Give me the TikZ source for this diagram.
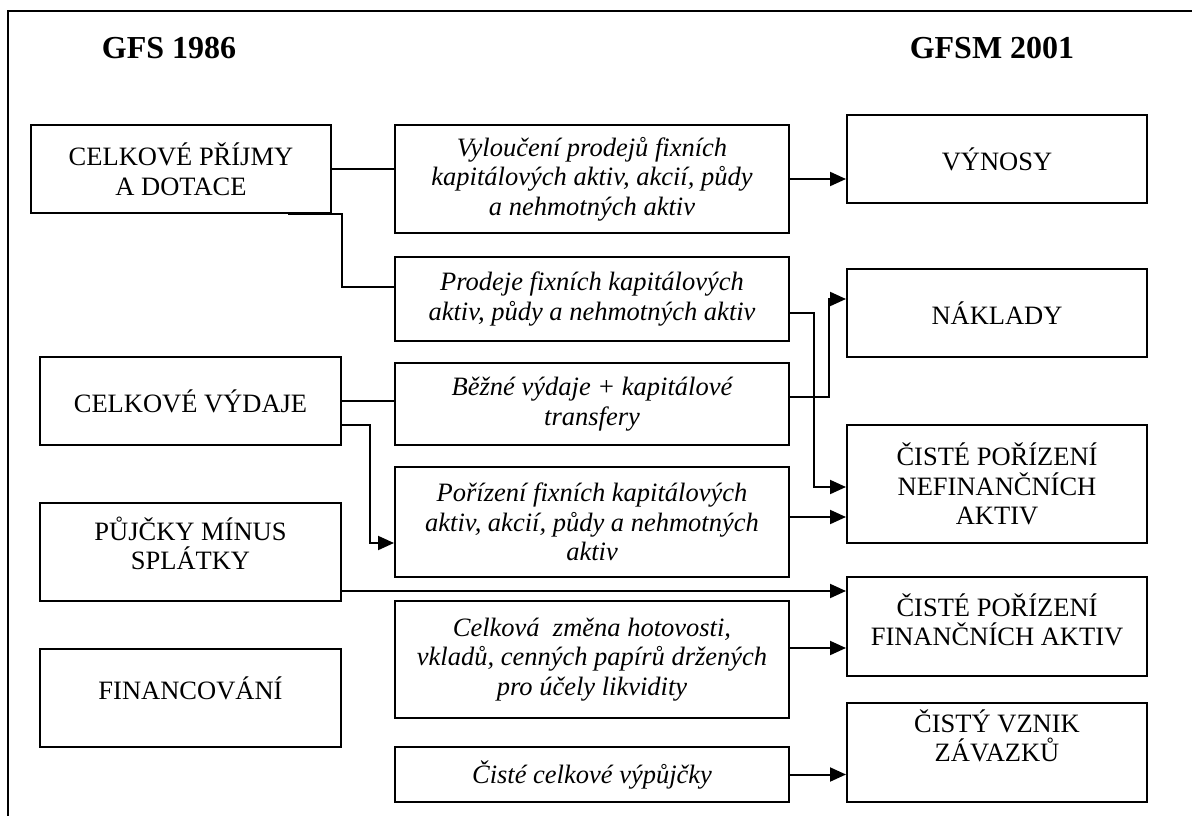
\documentclass[tikz,border=0pt]{standalone}
\usepackage{fontspec}
\setmainfont{Liberation Serif}
\usetikzlibrary{arrows.meta}
\tikzset{
  box/.style={draw, line width=2pt, rectangle, inner sep=0pt, align=center,
    font=\fontsize{26.5}{29.5}\selectfont},
  lbox/.style={box, minimum width=301pt},
  mbox/.style={box, minimum width=394pt, font=\fontsize{26.5}{29.5}\selectfont\itshape},
  rbox/.style={box, minimum width=300pt},
  link/.style={line width=2pt},
  flow/.style={link, -{Triangle[length=16pt,width=14pt]}},
  head/.style={font=\fontsize{32}{36}\selectfont\bfseries, anchor=base, inner sep=0pt},
  frame/.style={line width=2.2pt}
}
\begin{document}
\begin{tikzpicture}[x=1pt,y=-1pt]
\useasboundingbox (0,0) rectangle (1192,816);
% outer frame (top and left sides)
\draw[frame] (8,830) -- (8,11) -- (1200,11);

% column headings
\node[head] (h1) at (169,59) {GFS 1986};
\node[head] (h2) at (992,59) {GFSM 2001};

% GFS 1986 items
\node[box, minimum width=300pt, minimum height=88pt] (pr) at (181,169) {CELKOVÉ PŘÍJMY\\A DOTACE};
\node[lbox, minimum height=88pt] (vy) at (190.5,401) {CELKOVÉ VÝDAJE};
\node[lbox, minimum height=98pt, text depth=18pt] (pu) at (190.5,552) {PŮJČKY MÍNUS\\SPLÁTKY};
\node[lbox, minimum height=98pt, text depth=20pt] (fi) at (190.5,698) {FINANCOVÁNÍ};

% reclassification items
\node[mbox, minimum height=108pt] (m1) at (592,179) {Vyloučení prodejů fixních\\kapitálových aktiv, akcií, půdy\\a nehmotných aktiv};
\node[mbox, minimum height=84pt] (m2) at (592,299) {Prodeje fixních kapitálových\\aktiv, půdy a nehmotných aktiv};
\node[mbox, minimum height=82pt] (m3) at (592,404) {Běžné výdaje + kapitálové\\transfery};
\node[mbox, minimum height=110pt] (m4) at (592,522) {Pořízení fixních kapitálových\\aktiv, akcií, půdy a nehmotných\\aktiv};
\node[mbox, minimum height=117pt] (m5) at (592,659.5) {Celková~ změna hotovosti,\\vkladů, cenných papírů držených\\pro účely likvidity};
\node[mbox, minimum height=55pt] (m6) at (592,774.5) {Čisté celkové výpůjčky};

% GFSM 2001 items
\node[rbox, minimum height=88pt] (r1) at (997,159) {VÝNOSY};
\node[rbox, minimum height=88pt] (r2) at (997,313) {NÁKLADY};
\node[rbox, minimum height=118pt] (r3) at (997,484) {ČISTÉ POŘÍZENÍ\\NEFINANČNÍCH\\AKTIV};
\node[rbox, minimum height=99pt, text depth=14pt] (r4) at (997,626.5) {ČISTÉ POŘÍZENÍ\\FINANČNÍCH AKTIV};
\node[rbox, minimum height=99pt, text depth=34pt] (r5) at (997,752.5) {ČISTÝ VZNIK\\ZÁVAZKŮ};

% connectors
\draw[link] (pr.east) -- (pr.east -| m1.west);
\draw[flow] (m1.east) -- (m1.east -| r1.west);
\draw[link] ([xshift=-44pt]pr.south east) -- ++(54,0) |- ([yshift=12pt]m2.west);
\draw[flow] ([yshift=-14pt]m2.east) -- ++(24,0) |- ([yshift=-3pt]r3.west);
\draw[link] (vy.east) -- (vy.east -| m3.west);
\draw[flow] ([yshift=7pt]m3.east) -- ++(39,0) |- ([yshift=14pt]r2.west);
\draw[flow] ([yshift=-24pt]vy.east) -- ++(28,0) |- ([yshift=-21pt]m4.west);
\draw[flow] ([yshift=5pt]m4.east) -- ([yshift=5pt]m4.east -| r3.west);
\draw[flow] ([yshift=-39pt]pu.east) -- ([yshift=-39pt]pu.east -| r4.west);
\draw[flow] ([yshift=11.5pt]m5.east) -- ([yshift=11.5pt]m5.east -| r4.west);
\draw[flow] (m6.east) -- (m6.east -| r5.west);
\end{tikzpicture}
\end{document}
